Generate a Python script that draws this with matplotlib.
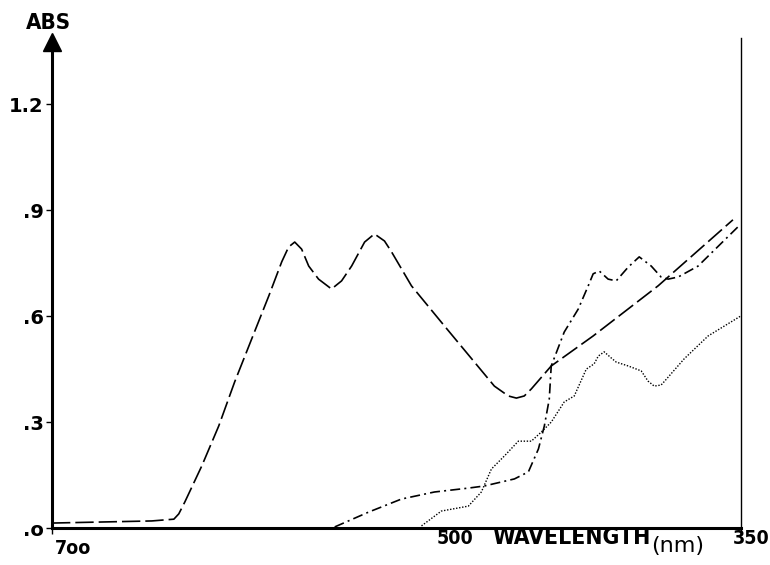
import numpy as np
import matplotlib
matplotlib.use("Agg")
import matplotlib.pyplot as plt

# absorbance spectra (wavelength nm, ABS)
wl_dash = [700, 649.3, 638.1, 635.6, 632.5, 623.9, 615.3, 607.2, 598.6, 589.9, 583.3,
           579.8, 576.7, 573.2, 569.6, 564.6, 558.0, 552.9, 547.8, 541.2, 536.2, 531.1,
           527.5, 517.4, 500.6, 475.3, 468.2, 464.1, 460.1, 456.5, 446.4, 425.1, 392.1,
           354.1]
abs_dash = [0.014, 0.020, 0.025, 0.040, 0.074, 0.176, 0.289, 0.414, 0.535, 0.657, 0.754,
            0.796, 0.810, 0.790, 0.742, 0.705, 0.677, 0.700, 0.742, 0.810, 0.833, 0.813,
            0.782, 0.686, 0.572, 0.402, 0.374, 0.368, 0.374, 0.394, 0.459, 0.544, 0.686,
            0.873]

wl_dashdot = [556.4, 539.2, 522.5, 505.7, 488.5, 480.4, 465.1, 458.0, 452.9, 449.9, 447.4,
              446.4, 439.8, 432.7, 427.6, 425.1, 422.0, 417.5, 413.4, 407.3, 401.7, 395.6,
              390.6, 387.0, 381.9, 371.8, 351.0]
abs_dashdot = [0.003, 0.045, 0.082, 0.102, 0.113, 0.119, 0.139, 0.159, 0.224, 0.289, 0.365,
               0.459, 0.555, 0.620, 0.686, 0.720, 0.728, 0.705, 0.700, 0.739, 0.768, 0.742,
               0.711, 0.705, 0.711, 0.742, 0.856]

wl_dot = [512.3, 502.2, 488.5, 481.9, 476.8, 470.2, 463.1, 456.5, 451.4, 446.4, 439.8,
          434.7, 428.6, 424.6, 422.5, 419.5, 416.0, 413.4, 407.3, 400.7, 397.2, 394.1,
          390.6, 389.1, 378.9, 366.7, 350.0]
abs_dot = [0.006, 0.048, 0.062, 0.102, 0.167, 0.204, 0.246, 0.246, 0.272, 0.300, 0.357,
           0.374, 0.450, 0.465, 0.487, 0.499, 0.482, 0.470, 0.459, 0.445, 0.416, 0.402,
           0.405, 0.414, 0.479, 0.544, 0.601]

yticks = [0, 0.3, 0.6, 0.9, 1.2]
ylabels = [".o", ".3", ".6", ".9", "1.2"]

W, H = 770, 565
fig = plt.figure(figsize=(W / 100, H / 100), dpi=100)
ax = fig.add_axes([52 / W, 1 - 528 / H, 689 / W, 490 / H])

ax.plot(wl_dash, abs_dash, color="k", lw=1.2, linestyle=(0, (11, 3)))
ax.plot(wl_dashdot, abs_dashdot, color="k", lw=1.2, linestyle=(0, (6, 2.5, 1.2, 2.5)))
ax.plot(wl_dot, abs_dot, color="k", lw=1.0, linestyle=(0, (1, 1.2)))

ax.set_xlim(700, 350)
ax.set_ylim(0, 1.388)

ax.spines["top"].set_visible(False)
ax.spines["left"].set_linewidth(2.2)
ax.spines["bottom"].set_linewidth(2.2)
ax.spines["right"].set_linewidth(1.0)

ax.set_yticks(yticks)
ax.set_yticklabels(ylabels, fontsize=14, fontweight="bold")
ax.tick_params(axis="y", direction="out", length=4, width=1, pad=2)
ax.set_xticks([700, 500, 350])
ax.set_xticklabels([])
ax.tick_params(axis="x", direction="out", length=4, width=1)

# arrow head on the ABS axis
ax.plot([700], [1.376], marker="^", markersize=13, color="k", clip_on=False)

bold = dict(fontweight="bold", fontstretch="condensed", color="k")
fig.text(48 / W, 1 - 23 / H, "ABS", fontsize=16, ha="center", va="center", **bold)
fig.text(55 / W, 1 - 548 / H, "7oo", fontsize=14, ha="left", va="center", **bold)
fig.text(437 / W, 1 - 538 / H, "500", fontsize=14, ha="left", va="center", **bold)
fig.text(492 / W, 1 - 538 / H, "WAVELENGTH", fontsize=16.5, ha="left", va="center", **bold)
fig.text(651 / W, 1 - 546 / H, "(nm)", fontsize=16, ha="left", va="center", color="k")
fig.text(733 / W, 1 - 538 / H, "350", fontsize=14, ha="left", va="center", **bold)

fig.savefig("out.png", dpi=100, facecolor="white")
